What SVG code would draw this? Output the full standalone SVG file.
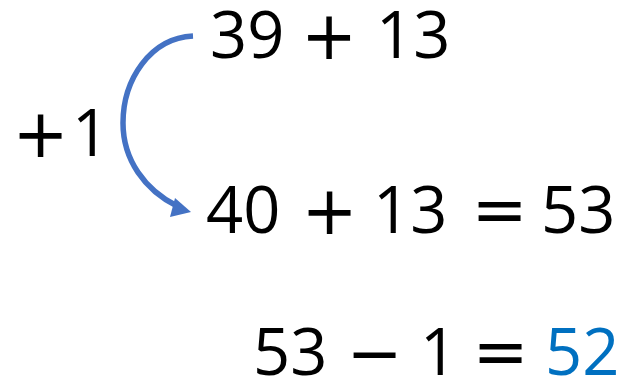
<svg xmlns="http://www.w3.org/2000/svg" width="625" height="380" viewBox="0 0 625 380">
<style>
.t{font-family:"Open Sans","Liberation Sans",sans-serif;font-size:65px;fill:#000}
.op{font-family:"DejaVu Sans","Liberation Sans",sans-serif;font-size:67px;fill:#000;text-anchor:middle}
.blue{fill:#0070C0}
</style>
<rect width="625" height="380" fill="#fff"/>
<g id="connectors">
<path d="M193,36 C150,38 123,80 123,123 C123,160 145,190 177,206" fill="none" stroke="#4472C4" stroke-width="5.5"/>
<polygon points="191,212 175,198 170,217" fill="#4472C4"/>
</g>
<g id="plus-one">
<text class="op" x="40.5" y="157">+</text>
<text class="t" x="72" y="156">1</text>
</g>
<g id="line1">
<text class="t" x="210" y="58">39</text>
<text class="op" x="329" y="59">+</text>
<text class="t" x="376" y="58">13</text>
</g>
<g id="line2">
<text class="t" x="206" y="233">40</text>
<text class="op" x="329.5" y="234">+</text>
<text class="t" x="373" y="233">13</text>
<text class="op" x="499.5" y="233">=</text>
<text class="t" x="541" y="233">53</text>
</g>
<g id="line3">
<text class="t" x="253" y="375">53</text>
<text class="op" x="374.5" y="376">−</text>
<text class="t" x="420" y="375">1</text>
<text class="op" x="500.5" y="375">=</text>
<text class="t blue" x="545" y="375">52</text>
</g>
</svg>
